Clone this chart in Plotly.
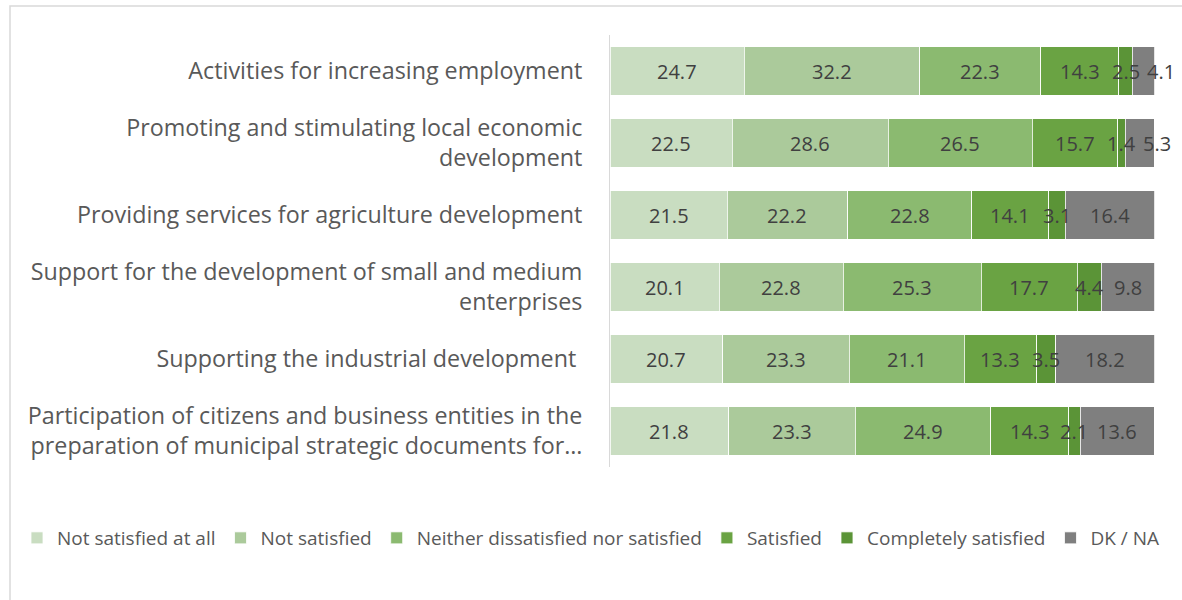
import plotly.graph_objects as go

categories = [
    "Activities for increasing employment",
    "Promoting and stimulating local economic<br>development",
    "Providing services for agriculture development",
    "Support for the development of small and medium<br>enterprises",
    "Supporting the industrial development\u00a0",
    "Participation of citizens and business entities in the<br>preparation of municipal strategic documents for…",
]

series_names = [
    "Not satisfied at all",
    "Not satisfied",
    "Neither dissatisfied nor satisfied",
    "Satisfied",
    "Completely satisfied",
    "DK / NA",
]

not_satisfied_at_all = [24.7, 22.5, 21.5, 20.1, 20.7, 21.8]
not_satisfied = [32.2, 28.6, 22.2, 22.8, 23.3, 23.3]
neither = [22.3, 26.5, 22.8, 25.3, 21.1, 24.9]
satisfied = [14.3, 15.7, 14.1, 17.7, 13.3, 14.3]
completely_satisfied = [2.5, 1.4, 3.1, 4.4, 3.5, 2.1]
dk_na = [4.1, 5.3, 16.4, 9.8, 18.2, 13.6]

series_values = [not_satisfied_at_all, not_satisfied, neither, satisfied,
                 completely_satisfied, dk_na]
colors = ["#C9DDC1", "#ABCA9B", "#8BBA70", "#6AA343", "#5B9437", "#7F7F7F"]

FONT = "Open Sans, sans-serif"
W, H = 1182, 600
ML, MR, MT, MB = 610, 27, 35, 133
plot_w = W - ML - MR
plot_h = H - MT - MB

fig = go.Figure()

# stacked segments
for name, vals, col in zip(series_names, series_values, colors):
    fig.add_trace(go.Bar(
        y=categories, x=vals, name=name, orientation="h",
        marker=dict(color=col, line=dict(color="rgba(255,255,255,0.8)", width=1)),
        hoverinfo="skip",
    ))

# value labels on top of all segments, centred on each segment;
# narrow end segments get their label nudged past the bar end
annotations = []
running = [0.0] * len(categories)
last = len(series_values) - 1
for si, vals in enumerate(series_values):
    for ci, (cat, v) in enumerate(zip(categories, vals)):
        mid = running[ci] + v / 2
        shift = 17 if (si == last and v < 6) else 0
        annotations.append(dict(
            x=mid, y=cat, xref="x", yref="y", text=f"{v:.1f}",
            showarrow=False, xanchor="center", yanchor="middle", xshift=shift,
            font=dict(family=FONT, size=20, color="#404040"),
        ))
    running = [r + v for r, v in zip(running, vals)]

legend_left = 17
fig.update_layout(
    width=W, height=H,
    barmode="stack", bargap=0.333,
    margin=dict(l=ML, r=MR, t=MT, b=MB),
    paper_bgcolor="white", plot_bgcolor="white",
    font=dict(family=FONT, color="#595959"),
    annotations=annotations,
    legend=dict(
        orientation="h", xanchor="left", x=(legend_left - ML) / plot_w,
        yanchor="middle", y=-(538 - (H - MB)) / plot_h,
        font=dict(size=19, color="#595959"),
        itemwidth=30, traceorder="normal",
    ),
    xaxis=dict(range=[0, 100.15], visible=False, fixedrange=True),
    yaxis=dict(
        autorange="reversed", showgrid=False,
        showline=True, linecolor="#D9D9D9", linewidth=1,
        ticks="", ticklabelstandoff=22,
        tickfont=dict(size=23.3, color="#595959"),
    ),
    shapes=[
        dict(type="rect", xref="paper", yref="paper",
             x0=(10 - ML) / plot_w, x1=(W + 20 - ML) / plot_w,
             y0=-(H + 20 - MT - plot_h) / plot_h, y1=1 + (MT - 6) / plot_h,
             line=dict(color="#D9D9D9", width=1.5), fillcolor="rgba(0,0,0,0)",
             layer="below"),
    ],
)

fig.write_html("out.html")
